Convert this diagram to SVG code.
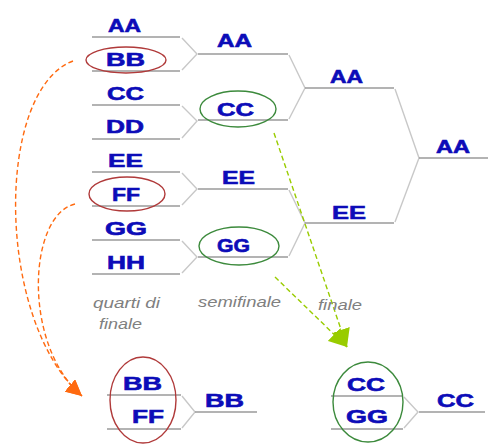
<svg xmlns="http://www.w3.org/2000/svg" width="488" height="444" viewBox="0 0 488 444">
<style>
.bg{fill:#ffffff}
.ln{stroke:#9a9a9a;stroke-width:1.6;fill:none}
.br{stroke:#c8c8c8;stroke-width:1.4;fill:none}
.t{font-family:"Liberation Sans",Arial,sans-serif;font-weight:bold;font-size:18.5px;fill:#0c0cb8;stroke:#0c0cb8;stroke-width:0.6}
.lab{font-family:"Liberation Sans",Arial,sans-serif;font-style:italic;font-size:15.5px;fill:#808080}
.red{stroke:#b03a3a;stroke-width:1.4;fill:none}
.grn{stroke:#3c8a3c;stroke-width:1.4;fill:none}
.od{stroke:#ff6a10;stroke-width:1.4;stroke-dasharray:5,3;fill:none}
.gd{stroke:#99cc00;stroke-width:1.4;stroke-dasharray:5,3;fill:none}
</style>
<defs>
<marker id="ao" viewBox="0 0 10 10" refX="10" refY="5" markerWidth="16" markerHeight="16" markerUnits="userSpaceOnUse" orient="auto"><path d="M0,0 L10,5 L0,10 z" fill="#ff6a10"/></marker>
<marker id="ag" viewBox="0 0 10 10" refX="10" refY="5" markerWidth="18" markerHeight="18" markerUnits="userSpaceOnUse" orient="auto"><path d="M0,0 L10,5 L0,10 z" fill="#99cc00"/></marker>
</defs>
<rect class="bg" x="0" y="0" width="488" height="444"/>

<g id="connectors">
<polyline class="br" points="182,38 197,54 182,70"/>
<polyline class="br" points="182,106 197,121 182,138"/>
<polyline class="br" points="182,173 197,189 182,205"/>
<polyline class="br" points="182,241 197,257 182,273"/>
<polyline class="br" points="289,55 305,88 289,119"/>
<polyline class="br" points="289,190 305,223 289,256"/>
<polyline class="br" points="395,89 419,158 395,222"/>
<polyline class="br" points="182,396 195,412 182,428"/>
<polyline class="br" points="404,397 418,412 404,428"/>
<path class="od" d="M73,61 C-5,90 -5,320 82,396" marker-end="url(#ao)"/>
<path class="od" d="M75,204 C28,215 22,345 82,396" marker-end="url(#ao)"/>
<path class="gd" d="M274,133 L347,347" marker-end="url(#ag)"/>
<path class="gd" d="M275,277 L347,347" marker-end="url(#ag)"/>
</g>

<g id="q-AA"><line class="ln" x1="92" y1="37" x2="180" y2="37"/><text class="t" x="108" y="32" textLength="33" lengthAdjust="spacingAndGlyphs">AA</text></g>
<g id="q-BB"><line class="ln" x1="92" y1="71" x2="180" y2="71"/><ellipse class="red" cx="126" cy="60" rx="40" ry="13"/><text class="t" x="106" y="66" textLength="39" lengthAdjust="spacingAndGlyphs">BB</text></g>
<g id="q-CC"><line class="ln" x1="92" y1="105" x2="180" y2="105"/><text class="t" x="107" y="100" textLength="37" lengthAdjust="spacingAndGlyphs">CC</text></g>
<g id="q-DD"><line class="ln" x1="92" y1="139" x2="180" y2="139"/><text class="t" x="106" y="133" textLength="38" lengthAdjust="spacingAndGlyphs">DD</text></g>
<g id="q-EE"><line class="ln" x1="92" y1="172" x2="180" y2="172"/><text class="t" x="108" y="167" textLength="35" lengthAdjust="spacingAndGlyphs">EE</text></g>
<g id="q-FF"><line class="ln" x1="92" y1="206" x2="180" y2="206"/><ellipse class="red" cx="127" cy="194" rx="38" ry="17"/><text class="t" x="112" y="201" textLength="28" lengthAdjust="spacingAndGlyphs">FF</text></g>
<g id="q-GG"><line class="ln" x1="92" y1="240" x2="180" y2="240"/><text class="t" x="105" y="235" textLength="42" lengthAdjust="spacingAndGlyphs">GG</text></g>
<g id="q-HH"><line class="ln" x1="92" y1="274" x2="180" y2="274"/><text class="t" x="107" y="269" textLength="38" lengthAdjust="spacingAndGlyphs">HH</text></g>

<g id="s-AA"><line class="ln" x1="198" y1="54" x2="288" y2="54"/><text class="t" x="217" y="47" textLength="35" lengthAdjust="spacingAndGlyphs">AA</text></g>
<g id="s-CC"><line class="ln" x1="198" y1="120" x2="288" y2="120"/><ellipse class="grn" cx="238" cy="109" rx="38" ry="18"/><text class="t" x="217" y="116" textLength="37" lengthAdjust="spacingAndGlyphs">CC</text></g>
<g id="s-EE"><line class="ln" x1="198" y1="189" x2="288" y2="189"/><text class="t" x="222" y="184" textLength="33" lengthAdjust="spacingAndGlyphs">EE</text></g>
<g id="s-GG"><line class="ln" x1="198" y1="257" x2="288" y2="257"/><ellipse class="grn" cx="239" cy="246" rx="40" ry="19"/><text class="t" x="217" y="252" textLength="33" lengthAdjust="spacingAndGlyphs">GG</text></g>

<g id="f-AA"><line class="ln" x1="305" y1="88" x2="394" y2="88"/><text class="t" x="330" y="83" textLength="33" lengthAdjust="spacingAndGlyphs">AA</text></g>
<g id="f-EE"><line class="ln" x1="305" y1="223" x2="394" y2="223"/><text class="t" x="332" y="219" textLength="34" lengthAdjust="spacingAndGlyphs">EE</text></g>
<g id="w-AA"><line class="ln" x1="419" y1="158" x2="488" y2="158"/><text class="t" x="436" y="153" textLength="34" lengthAdjust="spacingAndGlyphs">AA</text></g>

<g id="labels">
<text class="lab" x="93" y="308" textLength="67" lengthAdjust="spacingAndGlyphs">quarti di</text>
<text class="lab" x="99" y="329" textLength="43" lengthAdjust="spacingAndGlyphs">finale</text>
<text class="lab" x="198" y="307" textLength="83" lengthAdjust="spacingAndGlyphs">semifinale</text>
<text class="lab" x="318" y="310" textLength="44" lengthAdjust="spacingAndGlyphs">finale</text>
</g>

<g id="ex-BBFF">
<line class="ln" x1="107" y1="395" x2="181" y2="395"/>
<line class="ln" x1="107" y1="429" x2="181" y2="429"/>
<ellipse class="red" cx="143" cy="400" rx="33" ry="43"/>
<text class="t" x="123" y="390" textLength="39" lengthAdjust="spacingAndGlyphs">BB</text>
<text class="t" x="132" y="423" textLength="32" lengthAdjust="spacingAndGlyphs">FF</text>
</g>
<g id="ex-BB-win"><line class="ln" x1="195" y1="412" x2="257" y2="412"/><text class="t" x="205" y="407" textLength="39" lengthAdjust="spacingAndGlyphs">BB</text></g>

<g id="ex-CCGG">
<line class="ln" x1="331" y1="396" x2="403" y2="396"/>
<line class="ln" x1="331" y1="429" x2="403" y2="429"/>
<ellipse class="grn" cx="368" cy="402" rx="35" ry="40"/>
<text class="t" x="347" y="391" textLength="38" lengthAdjust="spacingAndGlyphs">CC</text>
<text class="t" x="346" y="423" textLength="42" lengthAdjust="spacingAndGlyphs">GG</text>
</g>
<g id="ex-CC-win"><line class="ln" x1="419" y1="412" x2="485" y2="412"/><text class="t" x="437" y="407" textLength="37" lengthAdjust="spacingAndGlyphs">CC</text></g>
</svg>
